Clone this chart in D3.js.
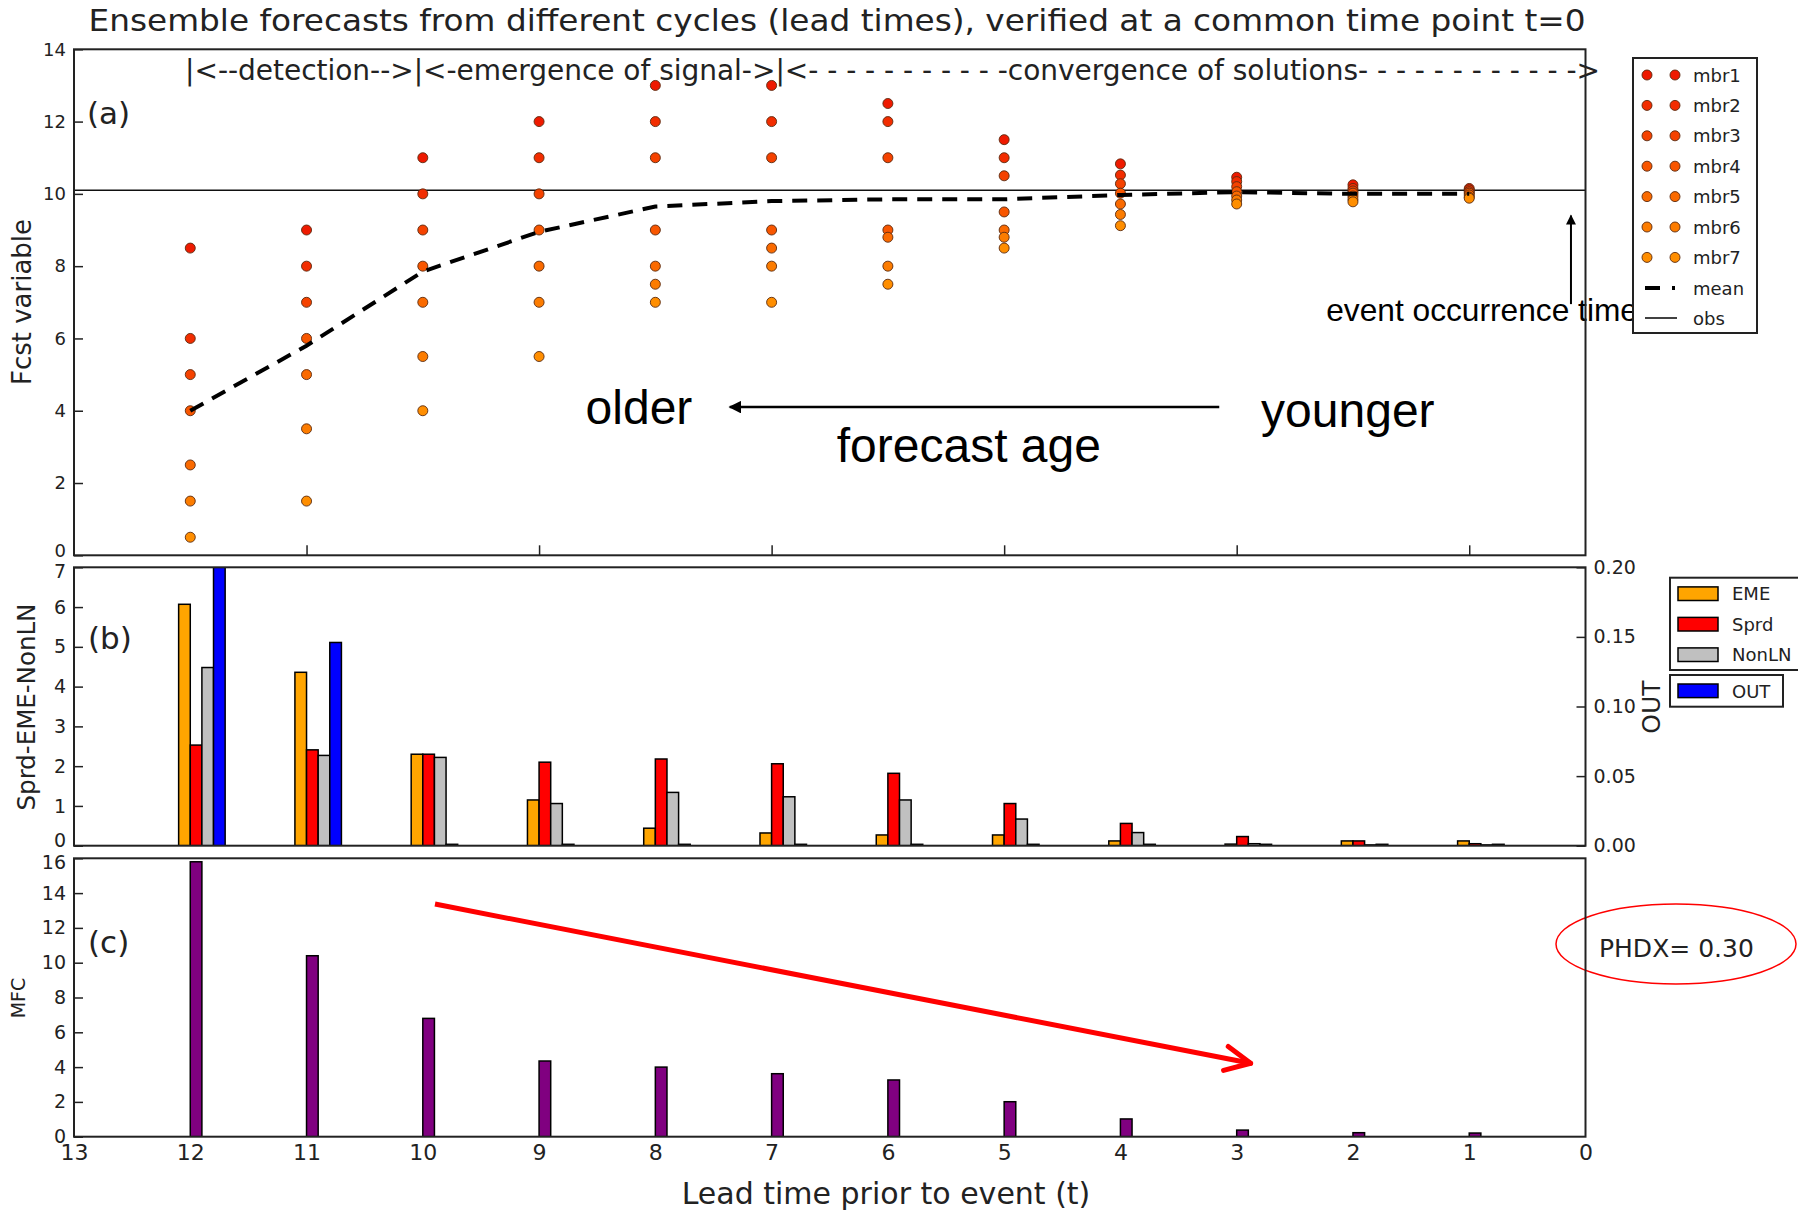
<!DOCTYPE html>
<html>
<head>
<meta charset="utf-8">
<script src="https://cdnjs.cloudflare.com/ajax/libs/d3/7.8.5/d3.min.js"></script>
<style>
body { margin: 0; background: #fff; }
svg { display: block; font-family: "DejaVu Sans", sans-serif; }
</style>
</head>
<body>
<svg id="chart" width="1798" height="1210"></svg>
<script>
// lead times prior to the event (x axis runs 13 -> 0)
var leadTimes = [12, 11, 10, 9, 8, 7, 6, 5, 4, 3, 2, 1];

// (a) ensemble members, same order as leadTimes
var mbr1 = [8.5, 9, 11, 12, 13, 13, 12.5, 11.5, 10.83, 10.46, 10.25, 10.15];
var mbr2 = [6, 8, 10, 11, 12, 12, 12, 11, 10.52, 10.34, 10.15, 10.11];
var mbr3 = [5, 7, 9, 10, 11, 11, 11, 10.5, 10.28, 10.2, 10.08, 10.06];
var mbr4 = [4, 6, 8, 9, 9, 9, 9, 9.5, 10.02, 10.06, 10.02, 10.02];
var mbr5 = [2.5, 5, 7, 8, 8, 8.5, 8.8, 9, 9.72, 9.94, 9.94, 9.97];
var mbr6 = [1.5, 3.5, 5.5, 7, 7.5, 8, 8, 8.8, 9.43, 9.83, 9.85, 9.91];
var mbr7 = [0.5, 1.5, 4, 5.5, 7, 7, 7.5, 8.5, 9.12, 9.72, 9.78, 9.88];
var ensMean = [4.0, 5.8, 7.85, 8.95, 9.65, 9.8, 9.85, 9.85, 9.97, 10.05, 10.0, 10.0];
var obsValue = 10.1;
var memberNames = ["mbr1", "mbr2", "mbr3", "mbr4", "mbr5", "mbr6", "mbr7"];

// (b) error decomposition, left axis; OUT on the right axis
var eme   = [6.07, 4.36, 2.30, 1.15, 0.44, 0.32, 0.27, 0.27, 0.12, 0.04, 0.12, 0.12];
var sprd  = [2.53, 2.41, 2.30, 2.10, 2.18, 2.06, 1.82, 1.06, 0.56, 0.23, 0.12, 0.05];
var nonLN = [4.48, 2.27, 2.22, 1.06, 1.34, 1.23, 1.15, 0.67, 0.33, 0.05, 0.02, 0.02];
var outVals = [0.2, 0.146, 0.001, 0.001, 0.001, 0.001, 0.001, 0.001, 0.001, 0.001, 0.001, 0.001];

// (c) MFC
var mfc = [15.8, 10.4, 6.8, 4.35, 4.0, 3.62, 3.26, 2.01, 1.02, 0.38, 0.23, 0.21];

// tick labels
var xTicks = [13, 12, 11, 10, 9, 8, 7, 6, 5, 4, 3, 2, 1, 0];
var aTicks = [0, 2, 4, 6, 8, 10, 12, 14];
var bTicks = [0, 1, 2, 3, 4, 5, 6, 7];
var outTicks = [0, 0.05, 0.10, 0.15, 0.20];
var cTicks = [0, 2, 4, 6, 8, 10, 12, 14, 16];
var phdx = 0.30;

var svg = d3.select("#chart");
var left = 74, right = 1585.5;
var aTop = 49.3, aBot = 555.3, bTop = 567.3, bBot = 845.7, cTop = 858.3, cBot = 1136.7;

var x = d3.scaleLinear().domain([13, 0]).range([left, right]);
var ya = d3.scaleLinear().domain([0, 14]).range([aBot, aTop]);
var yb = d3.scaleLinear().domain([0, 7]).range([bBot, bTop]);
var yOut = d3.scaleLinear().domain([0, 0.2]).range([bBot, bTop]);
var yc = d3.scaleLinear().domain([0, 16]).range([cBot, cTop]);

var memberColors = ["#ee1a00", "#f22d00", "#f54200", "#f85600", "#fa6a00", "#fc7c00", "#ff8e00"];
var members = [mbr1, mbr2, mbr3, mbr4, mbr5, mbr6, mbr7];

var defs = svg.append("defs");
[["clipB", bTop, bBot], ["clipC", cTop, cBot]].forEach(function (c) {
    defs.append("clipPath").attr("id", c[0])
        .append("rect").attr("x", left).attr("y", c[1])
        .attr("width", right - left).attr("height", c[2] - c[1]);
});
defs.append("marker").attr("id", "headBlack")
    .attr("viewBox", "0 0 10 10").attr("refX", 9).attr("refY", 5)
    .attr("markerWidth", 6).attr("markerHeight", 5).attr("orient", "auto")
    .attr("markerUnits", "strokeWidth")
    .append("path").attr("d", "M0,0 L10,5 L0,10 Z").attr("fill", "#000");

function styleAxis(g, size) {
    g.attr("font-family", "DejaVu Sans").attr("font-size", size);
    g.select(".domain").remove();
    g.selectAll("line").attr("stroke", "#222").attr("stroke-width", 1.5);
    g.selectAll("text").attr("fill", "#222");
}

// nudge the end labels of stacked panels so they don't collide
function nudge(g, lo, hi) {
    var texts = g.selectAll(".tick text");
    texts.filter(function (d) { return d === lo; }).attr("dy", "0.05em");
    texts.filter(function (d) { return d === hi; }).attr("dy", "0.55em");
}

// ---------- title ----------
svg.append("text")
    .attr("x", 837).attr("y", 31)
    .attr("text-anchor", "middle")
    .attr("font-size", 30).attr("fill", "#222")
    .attr("textLength", 1497)
    .attr("lengthAdjust", "spacingAndGlyphs")
    .text("Ensemble forecasts from different cycles (lead times), verified at a common time point t=0");

// ---------- panel (a) ----------
var gA = svg.append("g");

var axA = gA.append("g").attr("transform", "translate(" + left + ",0)")
    .call(d3.axisLeft(ya).tickValues(aTicks).tickSize(-9).tickPadding(8));
styleAxis(axA, 18);
nudge(axA, 0, null);
styleAxis(gA.append("g").attr("transform", "translate(0," + aBot + ")")
    .call(d3.axisBottom(x).tickValues([11, 9, 7, 5, 3, 1]).tickSize(-10).tickFormat("")), 18);

// obs line
gA.append("line")
    .attr("x1", left).attr("x2", right)
    .attr("y1", ya(obsValue)).attr("y2", ya(obsValue))
    .attr("stroke", "#111").attr("stroke-width", 1.6);

// ensemble members
members.forEach(function (vals, i) {
    gA.selectAll(".m" + i)
        .data(vals)
        .enter()
        .append("circle")
        .attr("class", "m" + i)
        .attr("cx", function (d, j) { return x(leadTimes[j]); })
        .attr("cy", function (d) { return ya(d); })
        .attr("r", 5)
        .attr("fill", memberColors[i])
        .attr("stroke", "#5a2a10")
        .attr("stroke-width", 0.9);
});

// ensemble mean
gA.append("path")
    .datum(ensMean)
    .attr("d", d3.line()
        .x(function (d, j) { return x(leadTimes[j]); })
        .y(function (d) { return ya(d); }))
    .attr("fill", "none")
    .attr("stroke", "#000")
    .attr("stroke-width", 4)
    .attr("stroke-dasharray", "15,10");

// phase annotation across the top
gA.append("text")
    .attr("x", x(12.045)).attr("y", ya(13.15))
    .attr("font-size", 28).attr("fill", "#222")
    .attr("textLength", 1415)
    .text("|<--detection-->|<-emergence of signal->|<- - - - - - - - - - -convergence of solutions- - - - - - - - - - - ->");

gA.append("text").attr("x", 87).attr("y", 124)
    .attr("font-size", 31).attr("fill", "#222").text("(a)");

// forecast age annotation
var arial = "Liberation Sans, Arial, sans-serif";
gA.append("text").attr("x", x(8.6)).attr("y", ya(3.63))
    .attr("font-family", arial).attr("font-size", 48).text("older");
gA.append("text").attr("x", x(2.79)).attr("y", ya(3.56))
    .attr("font-family", arial).attr("font-size", 48).text("younger");
gA.append("text").attr("x", x(6.44)).attr("y", ya(2.58))
    .attr("font-family", arial).attr("font-size", 48).text("forecast age");
gA.append("line")
    .attr("x1", x(3.15)).attr("x2", x(7.36))
    .attr("y1", ya(4.1)).attr("y2", ya(4.1))
    .attr("stroke", "#000").attr("stroke-width", 2.5)
    .attr("marker-end", "url(#headBlack)");

// event occurrence annotation
gA.append("text").attr("x", x(2.23)).attr("y", ya(6.48))
    .attr("font-family", arial).attr("font-size", 31.7).text("event occurrence time");
gA.append("line")
    .attr("x1", x(0.125)).attr("x2", x(0.125))
    .attr("y1", ya(6.95)).attr("y2", ya(9.4))
    .attr("stroke", "#000").attr("stroke-width", 2)
    .attr("marker-end", "url(#headBlack)");

// y label
svg.append("text")
    .attr("transform", "translate(30.5,302) rotate(-90)")
    .attr("text-anchor", "middle")
    .attr("font-size", 26).attr("fill", "#222")
    .text("Fcst variable");

// legend (a)
var legA = svg.append("g").attr("transform", "translate(1633,58)");
legA.append("rect").attr("width", 124).attr("height", 275)
    .attr("fill", "#fff").attr("stroke", "#222").attr("stroke-width", 2);
memberNames.forEach(function (name, i) {
    var yy = 17 + i * 30.4;
    [14, 42].forEach(function (xx) {
        legA.append("circle").attr("cx", xx).attr("cy", yy).attr("r", 5)
            .attr("fill", memberColors[i]).attr("stroke", "#5a2a10").attr("stroke-width", 0.9);
    });
    legA.append("text").attr("x", 60).attr("y", yy + 6.5)
        .attr("font-size", 18).attr("fill", "#222").text(name);
});
legA.append("line").attr("x1", 12).attr("x2", 42).attr("y1", 230).attr("y2", 230)
    .attr("stroke", "#000").attr("stroke-width", 4).attr("stroke-dasharray", "15,12");
legA.append("text").attr("x", 60).attr("y", 236.5)
    .attr("font-size", 18).attr("fill", "#222").text("mean");
legA.append("line").attr("x1", 12).attr("x2", 44).attr("y1", 260).attr("y2", 260)
    .attr("stroke", "#111").attr("stroke-width", 1.6);
legA.append("text").attr("x", 60).attr("y", 266.5)
    .attr("font-size", 18).attr("fill", "#222").text("obs");

// ---------- panel (b) ----------
var gB = svg.append("g");
var axB = gB.append("g").attr("transform", "translate(" + left + ",0)")
    .call(d3.axisLeft(yb).tickValues(bTicks).tickSize(-9).tickPadding(8).tickFormat(d3.format("d")));
styleAxis(axB, 19);
nudge(axB, 0, 7);
styleAxis(gB.append("g").attr("transform", "translate(" + right + ",0)")
    .call(d3.axisRight(yOut).tickValues(outTicks).tickSize(-9).tickPadding(8).tickFormat(d3.format(".2f"))), 19);

var bSeries = [
    {name: "EME", vals: eme, color: "#ffa500", start: 0.1, scale: yb},
    {name: "Sprd", vals: sprd, color: "#ff0000", start: 0, scale: yb},
    {name: "NonLN", vals: nonLN, color: "#c0c0c0", start: -0.1, scale: yb},
    {name: "OUT", vals: outVals, color: "#0000ff", start: -0.2, scale: yOut}
];
var barsB = gB.append("g").attr("clip-path", "url(#clipB)");
bSeries.forEach(function (s) {
    barsB.selectAll(".b" + s.name)
        .data(s.vals)
        .enter()
        .append("rect")
        .attr("class", "b" + s.name)
        .attr("x", function (d, j) { return x(leadTimes[j] + s.start); })
        .attr("width", function (d, j) { return x(leadTimes[j] + s.start - 0.1) - x(leadTimes[j] + s.start); })
        .attr("y", function (d) { return s.scale(d); })
        .attr("height", function (d) { return bBot - s.scale(d); })
        .attr("fill", s.color)
        .attr("stroke", "#000")
        .attr("stroke-width", 1.5);
});

svg.append("text").attr("x", 88).attr("y", 649)
    .attr("font-size", 31).attr("fill", "#222").text("(b)");
svg.append("text")
    .attr("transform", "translate(35,707) rotate(-90)")
    .attr("text-anchor", "middle")
    .attr("font-size", 24.5).attr("fill", "#222")
    .text("Sprd-EME-NonLN");
svg.append("text")
    .attr("transform", "translate(1660,707) rotate(-90)")
    .attr("text-anchor", "middle")
    .attr("font-size", 25).attr("fill", "#222")
    .text("OUT");

// legend (b)
var legB = svg.append("g").attr("transform", "translate(1670,577.7)");
legB.append("rect").attr("width", 140).attr("height", 92.3)
    .attr("fill", "#fff").attr("stroke", "#222").attr("stroke-width", 2);
bSeries.slice(0, 3).forEach(function (s, i) {
    var yy = 16 + i * 30.5;
    legB.append("rect").attr("x", 8).attr("y", yy - 6.8).attr("width", 40).attr("height", 13.6)
        .attr("fill", s.color).attr("stroke", "#000").attr("stroke-width", 1.5);
    legB.append("text").attr("x", 62).attr("y", yy + 6.5)
        .attr("font-size", 18).attr("fill", "#222").text(s.name);
});
var legOut = svg.append("g").attr("transform", "translate(1670,675)");
legOut.append("rect").attr("width", 113).attr("height", 31.7)
    .attr("fill", "#fff").attr("stroke", "#222").attr("stroke-width", 2);
legOut.append("rect").attr("x", 8).attr("y", 9).attr("width", 40).attr("height", 13.6)
    .attr("fill", bSeries[3].color).attr("stroke", "#000").attr("stroke-width", 1.5);
legOut.append("text").attr("x", 62).attr("y", 22.5)
    .attr("font-size", 18).attr("fill", "#222").text("OUT");

// ---------- panel (c) ----------
var gC = svg.append("g");
var axC = gC.append("g").attr("transform", "translate(" + left + ",0)")
    .call(d3.axisLeft(yc).tickValues(cTicks).tickSize(-9).tickPadding(8));
styleAxis(axC, 19);
nudge(axC, null, 16);
styleAxis(gC.append("g").attr("transform", "translate(0," + cBot + ")")
    .call(d3.axisBottom(x).tickValues(xTicks).tickSize(0).tickPadding(8)), 22);

gC.append("g").attr("clip-path", "url(#clipC)")
    .selectAll(".mfcbar")
    .data(mfc)
    .enter()
    .append("rect")
    .attr("class", "mfcbar")
    .attr("x", function (d, j) { return x(leadTimes[j]); })
    .attr("width", function (d, j) { return x(leadTimes[j] - 0.1) - x(leadTimes[j]); })
    .attr("y", function (d) { return yc(d); })
    .attr("height", function (d) { return cBot - yc(d); })
    .attr("fill", "#800080")
    .attr("stroke", "#000")
    .attr("stroke-width", 1.5);

svg.append("text").attr("x", 88).attr("y", 952.6)
    .attr("font-size", 31).attr("fill", "#222").text("(c)");
svg.append("text")
    .attr("transform", "translate(25,998) rotate(-90)")
    .attr("text-anchor", "middle")
    .attr("font-size", 19).attr("fill", "#222")
    .text("MFC");
svg.append("text")
    .attr("x", 886).attr("y", 1204)
    .attr("text-anchor", "middle")
    .attr("font-size", 30).attr("fill", "#222")
    .text("Lead time prior to event (t)");

// red trend arrow
var ax1 = x(9.895), ay1 = yc(13.37), ax2 = x(2.88), ay2 = yc(4.22);
var ang = Math.atan2(ay2 - ay1, ax2 - ax1);
gC.append("line")
    .attr("x1", ax1).attr("y1", ay1).attr("x2", ax2).attr("y2", ay2)
    .attr("stroke", "#ff0000").attr("stroke-width", 5);
[-0.45, 0.45].forEach(function (da) {
    gC.append("line")
        .attr("x1", ax2).attr("y1", ay2)
        .attr("x2", ax2 - 28 * Math.cos(ang + da))
        .attr("y2", ay2 - 28 * Math.sin(ang + da))
        .attr("stroke", "#ff0000").attr("stroke-width", 5)
        .attr("stroke-linecap", "round");
});

// PHDX label
svg.append("ellipse")
    .attr("cx", 1676).attr("cy", 944).attr("rx", 120).attr("ry", 40)
    .attr("fill", "none").attr("stroke", "#ff0000").attr("stroke-width", 1.5);
svg.append("text")
    .attr("x", 1599).attr("y", 957)
    .attr("font-size", 25).attr("fill", "#222")
    .text("PHDX= " + d3.format(".2f")(phdx));

// ---------- frames ----------
[[aTop, aBot], [bTop, bBot], [cTop, cBot]].forEach(function (p) {
    svg.append("rect")
        .attr("x", left).attr("y", p[0])
        .attr("width", right - left).attr("height", p[1] - p[0])
        .attr("fill", "none").attr("stroke", "#222").attr("stroke-width", 2);
});
</script>
</body>
</html>
